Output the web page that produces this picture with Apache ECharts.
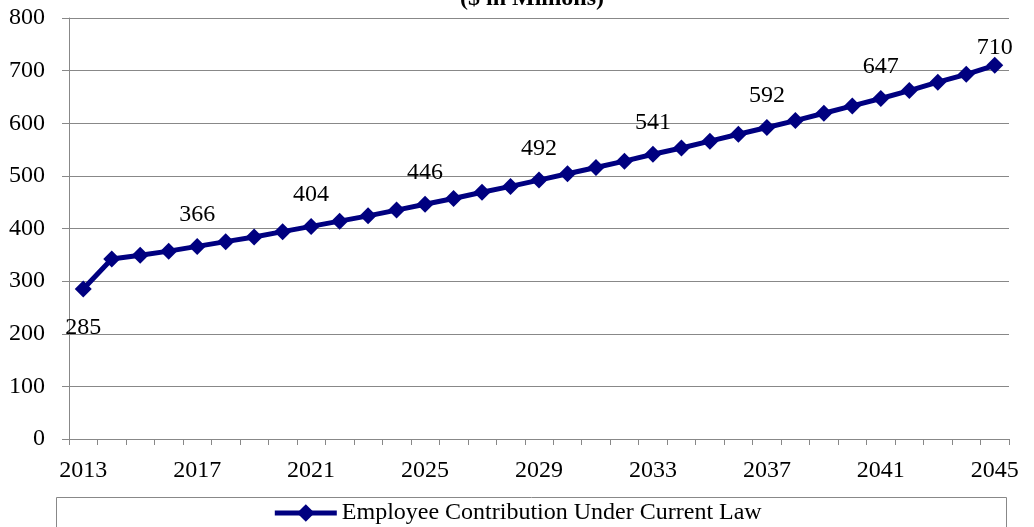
<!DOCTYPE html>
<html><head><meta charset="utf-8">
<script src="https://cdn.jsdelivr.net/npm/echarts@6/dist/echarts.min.js"></script>
<style>html,body{margin:0;padding:0;background:#fff}#c{width:1034px;height:527px}</style>
</head><body><div id="c"></div>
<script>
const years = ['2013','2014','2015','2016','2017','2018','2019','2020','2021','2022','2023','2024','2025','2026','2027','2028','2029','2030','2031','2032','2033','2034','2035','2036','2037','2038','2039','2040','2041','2042','2043','2044','2045'];
const contributions = [285,342,349,357,366,375,384,394,404,414,424,435,446,457,469,480,492,504,516,528,541,553,566,579,592,605,619,633,647,662,678,693,710];
const labeledYears = ['2013','2017','2021','2025','2029','2033','2037','2041','2045'];
const seriesName = 'Employee Contribution Under Current Law';
const titleText = '($ in Millions)';

const font = '"Liberation Serif", "Times New Roman", serif';
const navy = '#000080';

const seriesData = contributions.map((v, i) => {
  const y = years[i];
  if (labeledYears.indexOf(y) < 0) return v;
  let label;
  if (y === '2013') label = {show: true, position: 'bottom', distance: 18};
  else if (y === '2045') label = {show: true, position: 'top', distance: -3};
  else label = {show: true, position: 'top', distance: 11};
  return {value: v, label: label};
});

const chart = echarts.init(document.getElementById('c'), null, {renderer: 'canvas'});
chart.setOption({
  animation: false,
  backgroundColor: '#fff',
  graphic: [
    {type: 'text', x: 532, y: 11, style: {text: titleText, font: 'bold 24px ' + font, fill: '#000', textAlign: 'center', textVerticalAlign: 'bottom'}},
    {type: 'rect', shape: {x: 56.5, y: 497.5, width: 950, height: 40}, style: {fill: 'none', stroke: '#888', lineWidth: 1}}
  ],
  grid: {left: 69, right: 25, top: 18, bottom: 88},
  legend: {
    data: [seriesName],
    top: 501, left: 'center', padding: 0,
    itemWidth: 62, itemHeight: 22, itemGap: 4,
    lineStyle: {width: 5, color: navy},
    itemStyle: {color: navy},
    textStyle: {fontFamily: font, fontSize: 24, color: '#000'}
  },
  xAxis: {
    type: 'category', data: years, boundaryGap: true,
    axisLine: {lineStyle: {color: '#888', width: 1}},
    axisTick: {show: true, interval: 0, length: 6, lineStyle: {color: '#888'}},
    axisLabel: {interval: 3, margin: 20, fontFamily: font, fontSize: 24, color: '#000'},
    splitLine: {show: false}
  },
  yAxis: {
    type: 'value', min: 0, max: 800, interval: 100,
    axisLine: {show: true, lineStyle: {color: '#888', width: 1}},
    axisTick: {show: true, length: 7, lineStyle: {color: '#888'}},
    axisLabel: {margin: 24, fontFamily: font, fontSize: 24, color: '#000'},
    splitLine: {lineStyle: {color: '#888', width: 1}}
  },
  series: [{
    name: seriesName, type: 'line', data: seriesData,
    symbol: 'diamond', symbolSize: 17,
    lineStyle: {color: navy, width: 5},
    itemStyle: {color: navy},
    label: {show: false, fontFamily: font, fontSize: 24, color: '#000'}
  }]
});
</script></body></html>
